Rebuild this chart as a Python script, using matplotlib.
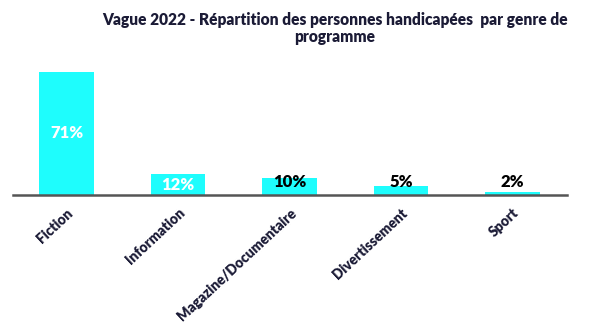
import numpy as np
import matplotlib.pyplot as plt

plt.rcParams['font.family'] = ['Lato', 'DejaVu Sans']

# Data ------------------------------------------------------------------------
genres = ['Fiction', 'Information', 'Magazine/Documentaire',
          'Divertissement', 'Sport']
shares = [71, 12, 10, 5, 2]
share_labels = ['71%', '12%', '10%', '5%', '2%']

# Style -----------------------------------------------------------------------
bar_color = '#1efdfd'
navy = '#1b1b36'
axis_color = '#555555'

W, H = 600, 327
fig = plt.figure(figsize=(W / 100, H / 100), dpi=100)
# axes: left/right follow the baseline, bottom sits on it
ax = fig.add_axes([12.7 / W, 1 - 195 / H, (567 - 12.7) / W, 140 / H])

x = np.arange(len(genres))
ax.bar(x, shares, width=0.49, color=bar_color, zorder=2)
ax.set_xlim(-0.483, len(genres) - 0.51)
ax.set_ylim(0, 140 / 1.737)

for xi, v, lab in zip(x, shares, share_labels):
    if v > 11:
        ax.text(xi, v / 2, lab, ha='center', va='center', color='white',
                fontsize=12, fontweight='heavy', zorder=3)
    else:
        ax.text(xi, 7.2, lab, ha='center', va='center', color='black',
                fontsize=12, fontweight='heavy', zorder=3)

for side in ['top', 'right', 'left']:
    ax.spines[side].set_visible(False)
ax.spines['bottom'].set_color(axis_color)
ax.spines['bottom'].set_linewidth(1.8)
ax.set_yticks([])
ax.set_xticks(x)
ax.set_xticklabels(genres, rotation=43, ha='right', rotation_mode='anchor',
                   fontsize=10, fontweight='heavy', color=navy)
ax.tick_params(axis='x', length=0, pad=8)

fig.text(335 / W, 1 - 28.5 / H,
         'Vague 2022 - Répartition des personnes handicapées  par genre de\n'
         'programme',
         ha='center', va='center', fontsize=11.2, fontweight='heavy',
         color=navy, linespacing=1.1)

fig.savefig('out.png', dpi=100)
